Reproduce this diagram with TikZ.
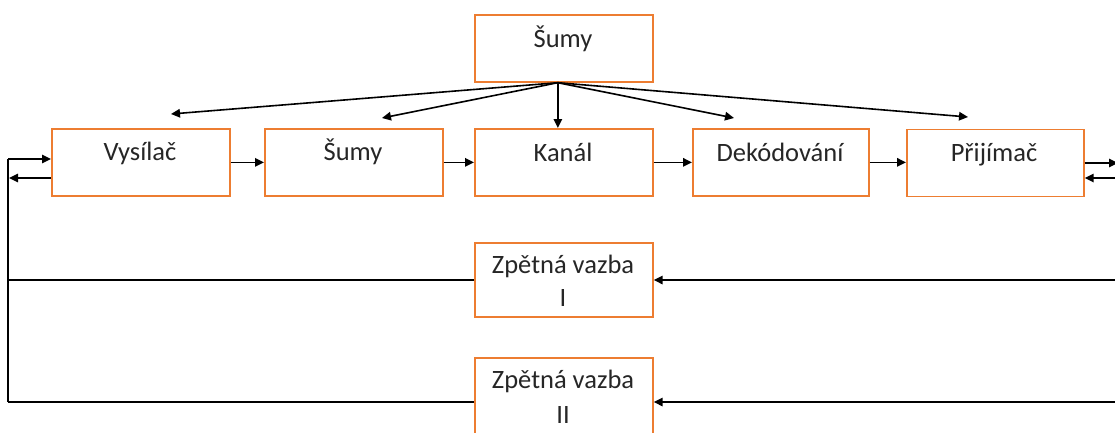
\documentclass[tikz,border=0pt]{standalone}
\usepackage{fontspec}
\setmainfont{Carlito}
\usetikzlibrary{arrows.meta,calc}
\definecolor{boxorange}{RGB}{237,125,49}
\begin{document}
\begin{tikzpicture}[x=1pt,y=-1pt,
  block/.style={draw=boxorange,line width=1.7pt,minimum width=178pt,minimum height=67pt,inner sep=0pt,anchor=north west},
  lbl/.style={anchor=base,inner sep=0pt,font=\fontsize{26.5}{30}\selectfont,text=black!85},
  conn/.style={line width=1.6pt,-{Triangle[length=9pt,width=8.5pt]}},
  wire/.style={line width=1.6pt}]
\useasboundingbox (0,0) rectangle (1115,432);

% boxes
\node[block] (top) at (474,14) {};
\node[block] (vys) at (51,128) {};
\node[block] (sum) at (264,128) {};
\node[block] (kan) at (474,128) {};
\node[block,minimum width=176pt] (dek) at (692,128) {};
\node[block,minimum width=177pt] (pri) at (906,128.5) {};
\node[block,minimum height=74pt] (zv1) at (474,242) {};
\node[block,minimum height=78pt] (zv2) at (474,357) {};

% labels
\node[lbl] (topt) at (563,47) {Šumy};
\node[lbl] (vyst) at (140,160) {Vysílač};
\node[lbl] (sumt) at (353,160) {Šumy};
\node[lbl] (kant) at (563,161) {Kanál};
\node[lbl] (dekt) at (780,161) {Dekódování};
\node[lbl] (prit) at (994,161) {Přijímač};
\node[lbl] (zv1a) at (563,273) {Zpětná vazba};
\node[lbl] (zv1b) at (563,306) {I};
\node[lbl] (zv2a) at (563,388) {Zpětná vazba};
\node[lbl] (zv2b) at (563,423) {II};

% noise fan-out
\coordinate (src) at ($(top.south)+(-6,0)$);
\coordinate (f1) at (171,114);
\coordinate (f2) at (382,118);
\coordinate (f4) at (734,118);
\coordinate (f5) at (968,117);
\draw[conn] (src) -- (f1);
\draw[conn] (src) -- (f2);
\draw[conn] (src) -- (src |- kan.north);
\draw[conn] (src) -- (f4);
\draw[conn] (src) -- (f5);

% main chain
\draw[conn] (vys.east) -- (sum.west);
\draw[conn] (sum.east) -- (kan.west);
\draw[conn] (kan.east) -- (dek.west);
\draw[conn] (dek.east) -- (dek.east -| pri.west);

% right side
\coordinate (ro) at (1118,163);
\coordinate (ri) at (1115,178);
\coordinate (r1) at (1115,280);
\coordinate (r2) at (1115,402);
\draw[conn] (pri.east |- ro) -- (ro);
\draw[conn] (ri) -- (ri -| pri.east);
\draw[conn] (r1) -- (r1 -| zv1.east);
\draw[conn] (r2) -- (r2 -| zv2.east);

% left feedback loop
\coordinate (lt) at (8,159);
\coordinate (lb) at (8,402);
\coordinate (lout) at (9,178);
\draw[wire] (lb) -- (lt);
\draw[conn] (lt) -- (lt -| vys.west);
\draw[conn] (vys.west |- lout) -- (lout);
\draw[wire] (zv1.west) -- (zv1.west -| lt);
\draw[wire] (lb) -- (lb -| zv2.west);
\end{tikzpicture}
\end{document}
